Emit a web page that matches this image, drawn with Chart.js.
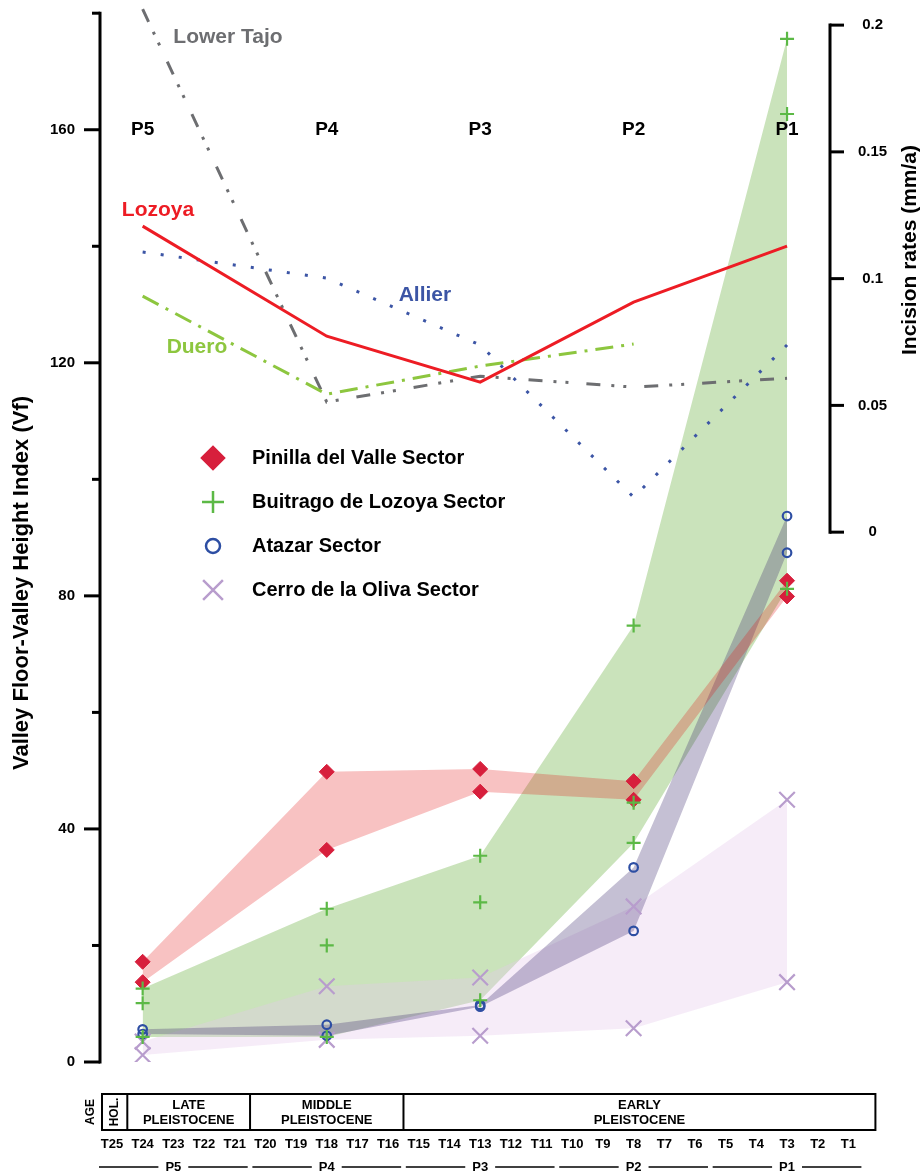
<!DOCTYPE html>
<html>
<head>
<meta charset="utf-8">
<title>Valley Floor-Valley Height Index</title>
<script src="https://cdn.jsdelivr.net/npm/chart.js@4.4.7/dist/chart.umd.min.js"></script>
<style>
  html, body { margin: 0; padding: 0; background: #fff; }
  #wrap { width: 922px; height: 1173px; }
</style>
</head>
<body>
<div id="wrap"><canvas id="vfChart" width="922" height="1173"></canvas></div>
<script>
const terraces = ['T25', 'T24', 'T23', 'T22', 'T21', 'T20', 'T19', 'T18', 'T17', 'T16', 'T15', 'T14', 'T13',
  'T12', 'T11', 'T10', 'T9', 'T8', 'T7', 'T6', 'T5', 'T4', 'T3', 'T2', 'T1'];
const sampledTerraces = ['T24', 'T18', 'T13', 'T8', 'T3'];
const phases = ['P5', 'P4', 'P3', 'P2', 'P1'];
const phaseSpans = [['T25', 'T21'], ['T20', 'T16'], ['T15', 'T11'], ['T10', 'T6'], ['T5', 'T1']];
const ageUnits = ['HOL.', 'LATE PLEISTOCENE', 'MIDDLE PLEISTOCENE', 'EARLY PLEISTOCENE'];
const ageStarts = ['T25', 'T24', 'T20', 'T15'];

// Vf values measured on each sampled terrace
const pinillaVf = [[17.2, 13.7], [49.8, 36.4], [50.3, 46.4], [48.2, 45.0], [82.6, 79.9]];
const buitragoVf = [[12.6, 10.1, 4.3], [26.3, 20.0, 4.3], [35.4, 27.4, 10.6], [74.9, 44.5, 37.6], [175.6, 162.7, 81.2]];
const atazarVf = [[5.6, 4.8], [6.4, 4.5], [9.8, 9.5], [33.4, 22.5], [93.7, 87.4]];
const cerroVf = [[3.5, 1.2], [13.0, 3.8], [14.5, 4.5], [26.7, 5.8], [45.0, 13.7]];

// incision rates (mm/a) for P5 ... P1
const lozoyaRate = [0.1207, 0.0773, 0.0592, 0.0907, 0.1128];
const allierRate = [0.1105, 0.1002, 0.0738, 0.0138, 0.0738];
const dueroRate = [0.0931, 0.0544, 0.0655, 0.0742, null];
const lowerTajoRate = [0.2063, 0.0513, 0.0615, 0.0572, 0.0607];

const rateTicks = [0, 0.05, 0.1, 0.15, 0.2];

const FONT = "'Liberation Sans', Arial, Helvetica, sans-serif";

const tIndex = t => terraces.indexOf(t);
const vfPoints = vals => sampledTerraces.flatMap((t, i) => vals[i].map(v => ({ x: tIndex(t), y: v })));
const vfEdge = (vals, pick) => sampledTerraces.map((t, i) => ({ x: tIndex(t), y: pick(...vals[i]) }));
const ratePoints = vals => sampledTerraces.map((t, i) => ({ x: tIndex(t), y: vals[i] }));

function markers(label, vals, style, color, radius, width, legendRadius, order, fillColor) {
  return {
    label, data: vfPoints(vals), showLine: false, order,
    pointStyle: style, pointRadius: radius, pointHoverRadius: radius, pointBorderWidth: width,
    pointBorderColor: color, pointBackgroundColor: fillColor || color,
    legendRadius
  };
}

function band(vals, color, order) {
  return [
    { data: vfEdge(vals, Math.max), fill: '+1', backgroundColor: color, borderColor: 'transparent',
      borderWidth: 0, pointRadius: 0, order },
    { data: vfEdge(vals, Math.min), fill: false, borderColor: 'transparent',
      borderWidth: 0, pointRadius: 0, order: order + 1 }
  ];
}

function rateLine(label, vals, color, dash, order, labelAt) {
  return {
    label, data: ratePoints(vals), yAxisID: 'yRate', borderColor: color, borderWidth: 3,
    borderDash: dash, pointRadius: 0, fill: false, tension: 0, order, clip: false, labelAt
  };
}

function strokeLine(ctx, x1, y1, x2, y2) {
  ctx.beginPath();
  ctx.moveTo(x1, y1);
  ctx.lineTo(x2, y2);
  ctx.stroke();
}

function drawText(ctx, str, px, py, size, color, opts = {}) {
  ctx.save();
  ctx.translate(px, py);
  if (opts.rotate) ctx.rotate(opts.rotate);
  ctx.font = `bold ${size}px ${FONT}`;
  ctx.fillStyle = color;
  ctx.textAlign = opts.align || 'center';
  ctx.textBaseline = 'middle';
  ctx.fillText(str, 0, 0);
  ctx.restore();
}

const decorations = {
  id: 'decorations',
  afterDraw(chart) {
    const { ctx, chartArea: area, scales: { x, y, yRate } } = chart;
    const tx = t => x.getPixelForValue(tIndex(t));
    ctx.save();
    ctx.strokeStyle = '#000';
    ctx.lineCap = 'butt';

    // left axis, long ticks where labelled
    ctx.lineWidth = 3;
    strokeLine(ctx, area.left, area.top - 1.5, area.left, area.bottom + 1.5);
    for (let v = 0; v <= 180; v += 20) {
      const py = y.getPixelForValue(v);
      strokeLine(ctx, area.left - (v % 40 === 0 ? 16 : 8), py, area.left, py);
    }
    // right axis only spans 0 - 0.2 mm/a
    const rTop = yRate.getPixelForValue(rateTicks[rateTicks.length - 1]);
    const rBot = yRate.getPixelForValue(rateTicks[0]);
    strokeLine(ctx, area.right, rTop - 1.5, area.right, rBot + 1.5);
    rateTicks.forEach(v => {
      const py = yRate.getPixelForValue(v);
      strokeLine(ctx, area.right, py, area.right + 14, py);
    });

    drawText(ctx, 'Valley Floor-Valley Height Index (Vf)', 22, 583, 22, '#000', { rotate: -Math.PI / 2 });
    drawText(ctx, 'Incision rates (mm/a)', 910, 250, 21, '#000', { rotate: -Math.PI / 2 });

    phases.forEach((p, i) => drawText(ctx, p, tx(sampledTerraces[i]), y.getPixelForValue(160), 19, '#000'));

    chart.data.datasets.forEach(ds => {
      if (ds.labelAt) {
        drawText(ctx, ds.label, x.getPixelForValue(ds.labelAt[0]), yRate.getPixelForValue(ds.labelAt[1]), 21, ds.borderColor);
      }
    });

    // legend
    let ly = 458;
    chart.data.datasets.filter(ds => ds.legendRadius).forEach(ds => {
      ctx.fillStyle = ds.pointBackgroundColor;
      ctx.strokeStyle = ds.pointBorderColor;
      ctx.lineWidth = 2.5;
      Chart.helpers.drawPoint(ctx, { pointStyle: ds.pointStyle, radius: ds.legendRadius, rotation: 0, borderWidth: 2.5 }, 213, ly);
      drawText(ctx, ds.label, 252, ly, 20, '#000', { align: 'left' });
      ly += 44;
    });

    // age table under the plot
    ctx.strokeStyle = '#000';
    ctx.lineWidth = 2;
    const top = area.bottom + 32, bot = area.bottom + 68;
    const left = area.left + 2, right = tx('T1') + 27;
    ctx.strokeRect(left, top, right - left, bot - top);
    drawText(ctx, 'AGE', left - 11, (top + bot) / 2, 12, '#000', { rotate: -Math.PI / 2 });
    const edges = ageStarts.map((t, i) => i === 0 ? left : (tx(t) + x.getPixelForValue(tIndex(t) - 1)) / 2);
    edges.push(right);
    ageUnits.forEach((name, i) => {
      if (i > 0) strokeLine(ctx, edges[i], top, edges[i], bot);
      const cx = (edges[i] + edges[i + 1]) / 2;
      const words = name.split(' ');
      if (words.length === 1) {
        drawText(ctx, name, cx, (top + bot) / 2, 12, '#000', { rotate: -Math.PI / 2 });
      } else {
        drawText(ctx, words[0], cx, top + 11, 13, '#000');
        drawText(ctx, words[1], cx, top + 26, 13, '#000');
      }
    });

    // phase spans below the terrace names
    const py = area.bottom + 105;
    ctx.lineWidth = 1.5;
    ctx.font = `bold 13px ${FONT}`;
    phaseSpans.forEach(([a, b], i) => {
      const l = tx(a) - 13, r = tx(b) + 13, c = (l + r) / 2;
      const half = ctx.measureText(phases[i]).width / 2 + 7;
      strokeLine(ctx, l, py, c - half, py);
      strokeLine(ctx, c + half, py, r, py);
      drawText(ctx, phases[i], c, py, 13, '#000');
    });
    ctx.restore();
  }
};

const noPad = s => { s.paddingLeft = 0; s.paddingRight = 0; s.paddingTop = 0; s.paddingBottom = 0; };

new Chart(document.getElementById('vfChart'), {
  type: 'line',
  data: {
    datasets: [
      markers('Pinilla del Valle Sector', pinillaVf, 'rectRot', '#d71f3c', 7.5, 1, 11, 1),
      markers('Buitrago de Lozoya Sector', buitragoVf, 'cross', '#5cb946', 7, 2.2, 11, 0),
      markers('Atazar Sector', atazarVf, 'circle', '#2d4ea3', 4.3, 2.2, 7, 2, 'rgba(0,0,0,0)'),
      markers('Cerro de la Oliva Sector', cerroVf, 'crossRot', '#b89dcd', 11, 2.2, 14, 3),
      rateLine('Lozoya', lozoyaRate, '#ed1c24', [], 5, [1.5, 0.127]),
      rateLine('Allier', allierRate, '#3c55a5', [3, 15.2], 6, [10.2, 0.0935]),
      rateLine('Duero', dueroRate, '#8dc63f', [18, 8, 3, 8], 7, [2.77, 0.073]),
      rateLine('Lower Tajo', lowerTajoRate, '#6d6e71', [14, 11, 3, 9, 3, 18], 8, [3.78, 0.1953]),
      ...band(pinillaVf, 'rgba(227,10,10,0.25)', 9),
      ...band(atazarVf, 'rgba(62,45,112,0.3)', 11),
      ...band(cerroVf, 'rgba(228,200,235,0.35)', 13),
      ...band(buitragoVf, 'rgba(150,200,120,0.5)', 15)
    ]
  },
  options: {
    responsive: false,
    animation: false,
    devicePixelRatio: 1,
    layout: { padding: { top: 13, left: 0, right: 0, bottom: 0 } },
    plugins: { legend: { display: false }, tooltip: { enabled: false } },
    elements: { line: { tension: 0 } },
    scales: {
      x: {
        type: 'linear', position: 'bottom', min: -0.39, max: 23.4, bounds: 'data',
        grid: { display: false, drawTicks: false }, border: { display: false },
        afterBuildTicks: s => { s.ticks = terraces.map((t, i) => ({ value: i })); },
        afterFit: s => { s.height = 111; noPad(s); },
        ticks: {
          autoSkip: false, maxRotation: 0, minRotation: 0, padding: 75, color: '#000',
          font: { family: FONT, size: 13, weight: 'bold' },
          callback: v => terraces[v]
        }
      },
      y: {
        position: 'left', min: 0, max: 180,
        grid: { display: false, drawTicks: false }, border: { display: false },
        afterFit: s => { s.width = 100; noPad(s); },
        ticks: {
          stepSize: 20, padding: 25, color: '#000',
          font: { family: FONT, size: 15, weight: 'bold' },
          callback: v => (v % 40 === 0 ? v : '')
        }
      },
      yRate: {
        position: 'right', min: -0.209, max: 0.2047, bounds: 'data',
        grid: { display: false, drawTicks: false }, border: { display: false },
        afterBuildTicks: s => { s.ticks = rateTicks.map(v => ({ value: v })); },
        afterFit: s => { s.width = 92; noPad(s); },
        ticks: {
          padding: 28, crossAlign: 'center', color: '#000',
          font: { family: FONT, size: 15, weight: 'bold' },
          callback: v => String(v)
        }
      }
    }
  },
  plugins: [decorations]
});
</script>
</body>
</html>
